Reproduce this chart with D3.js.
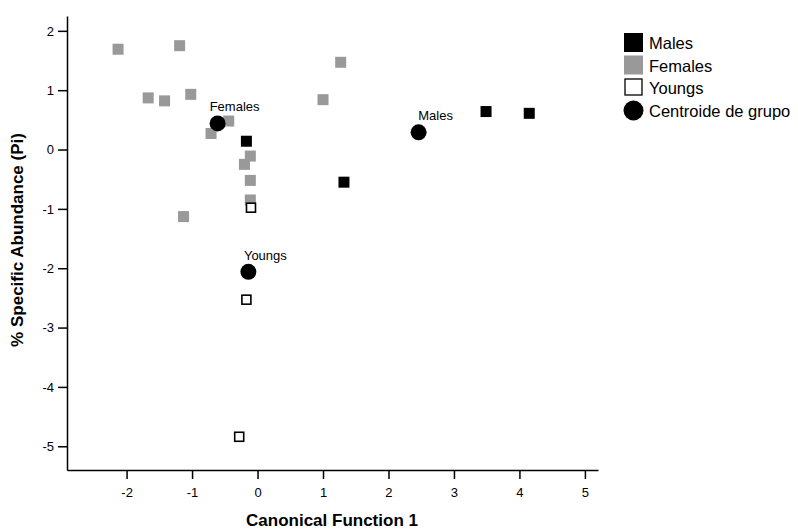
<!DOCTYPE html>
<html>
<head>
<meta charset="utf-8">
<script src="https://cdn.jsdelivr.net/npm/d3@7"></script>
<style>
  body { margin: 0; background: #fff; }
  svg { display: block; font-family: "Liberation Sans", Arial, sans-serif; }
</style>
</head>
<body>
<svg id="chart" width="798" height="530"></svg>
<script>
// Discriminant scores on canonical function 1 (x) and % specific abundance (y)
const malesX = [-0.17, 1.32, 3.49, 4.15];
const malesY = [0.14, -0.55, 0.64, 0.61];

const femalesX = [-2.13, -1.19, 1.27, -1.67, -1.42, -1.02, 1.00, -0.44, -0.71, -0.11, -0.20, -0.11, -0.11, -1.13];
const femalesY = [1.69, 1.75, 1.47, 0.87, 0.82, 0.93, 0.84, 0.48, 0.27, -0.11, -0.25, -0.52, -0.85, -1.13];

const youngsX = [-0.10, -0.17, -0.28];
const youngsY = [-0.98, -2.53, -4.84];

const centroidNames = ["Females", "Males", "Youngs"];
const centroidX = [-0.61, 2.46, -0.14];
const centroidY = [0.44, 0.29, -2.06];

const xTicks = [-2, -1, 0, 1, 2, 3, 4, 5];
const yTicks = [2, 1, 0, -1, -2, -3, -4, -5];

const legendLabels = ["Males", "Females", "Youngs", "Centroide de grupo"];

const svg = d3.select("#chart");
const GRAY = "#999999";

const x = d3.scaleLinear().domain([-2.91, 5.2]).range([67, 598]);
const y = d3.scaleLinear().domain([-5.4, 2.25]).range([470, 16]);

const fmt = d => String(d);

// Axes
const gx = svg.append("g")
  .attr("transform", `translate(0,${y.range()[0]})`)
  .call(d3.axisBottom(x).tickValues(xTicks).tickFormat(fmt).tickSizeInner(9).tickSizeOuter(0).tickPadding(9));
const gy = svg.append("g")
  .attr("transform", `translate(${x.range()[0]},0)`)
  .call(d3.axisLeft(y).tickValues(yTicks).tickFormat(fmt).tickSizeInner(9).tickSizeOuter(0).tickPadding(4));

[gx, gy].forEach(g => {
  g.select(".domain").attr("stroke", "#000").attr("stroke-width", 1.5);
  g.selectAll(".tick line").attr("stroke", "#000").attr("stroke-width", 1.5);
  g.selectAll(".tick text").attr("fill", "#000").style("font-size", "13px")
    .style("font-family", "\"Liberation Sans\", Arial, sans-serif");
});

// Axis titles
svg.append("text")
  .attr("x", 332).attr("y", 526)
  .attr("text-anchor", "middle")
  .style("font-size", "17px").style("font-weight", "bold")
  .text("Canonical Function 1");

svg.append("text")
  .attr("transform", "translate(23,240) rotate(-90)")
  .attr("text-anchor", "middle")
  .style("font-size", "17px").style("font-weight", "bold")
  .text("% Specific Abundance (Pi)");

// Points
const SQ = 11;
const pts = (xs, ys) => xs.map((v, i) => ({ x: v, y: ys[i] }));

svg.append("g").selectAll("rect").data(pts(femalesX, femalesY)).join("rect")
  .attr("x", d => x(d.x) - SQ / 2).attr("y", d => y(d.y) - SQ / 2)
  .attr("width", SQ).attr("height", SQ)
  .attr("fill", GRAY);

svg.append("g").selectAll("rect").data(pts(malesX, malesY)).join("rect")
  .attr("x", d => x(d.x) - SQ / 2).attr("y", d => y(d.y) - SQ / 2)
  .attr("width", SQ).attr("height", SQ)
  .attr("fill", "#000");

const WS = 9;
svg.append("g").selectAll("rect").data(pts(youngsX, youngsY)).join("rect")
  .attr("x", d => x(d.x) - WS / 2).attr("y", d => y(d.y) - WS / 2)
  .attr("width", WS).attr("height", WS)
  .attr("fill", "#fff").attr("stroke", "#000").attr("stroke-width", 1.6);

// Group centroids with labels
const cents = centroidNames.map((n, i) => ({ name: n, x: centroidX[i], y: centroidY[i] }));
svg.append("g").selectAll("circle").data(cents).join("circle")
  .attr("cx", d => x(d.x)).attr("cy", d => y(d.y)).attr("r", 8)
  .attr("fill", "#000");
svg.append("g").selectAll("text").data(cents).join("text")
  .attr("x", d => x(d.x) + 17).attr("y", d => y(d.y) - 12)
  .attr("text-anchor", "middle")
  .style("font-size", "13px")
  .text(d => d.name);

// Legend
const lg = svg.append("g").attr("transform", "translate(624,33)");
const rowH = 22.5;
legendLabels.forEach((lab, i) => {
  const g = lg.append("g").attr("transform", `translate(0,${i * rowH})`);
  if (i === 0) g.append("rect").attr("width", 19).attr("height", 19).attr("fill", "#000");
  if (i === 1) g.append("rect").attr("width", 19).attr("height", 19).attr("fill", GRAY);
  if (i === 2) g.append("rect").attr("x", 1).attr("y", 1).attr("width", 17).attr("height", 16)
    .attr("fill", "#fff").attr("stroke", "#000").attr("stroke-width", 1.3);
  if (i === 3) g.append("circle").attr("cx", 9.5).attr("cy", 10).attr("r", 10).attr("fill", "#000");
  g.append("text").attr("x", 25).attr("y", 16)
    .style("font-size", "16.5px")
    .text(lab);
});
</script>
</body>
</html>
